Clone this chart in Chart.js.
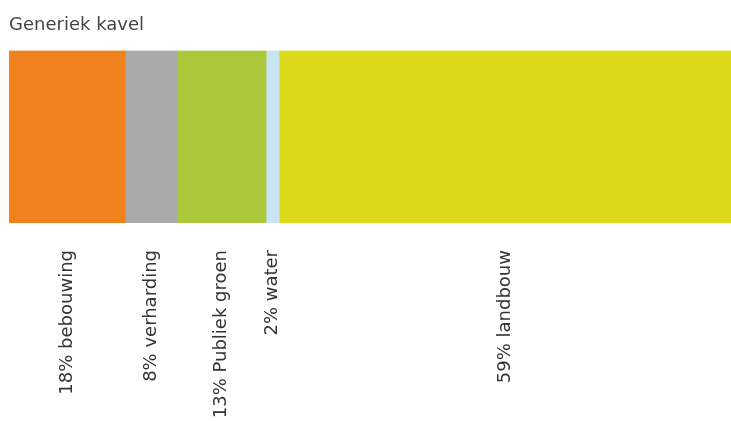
<!DOCTYPE html>
<html>
<head>
<meta charset="utf-8">
<script src="https://cdn.jsdelivr.net/npm/chart.js@4"></script>
<style>
  body { margin: 0; background: #fff; }
  #wrap { width: 731px; height: 421px; }
</style>
</head>
<body>
<div id="wrap"><canvas id="myChart" width="731" height="421"></canvas></div>
<script>
const ctx = document.getElementById('myChart');

// categorieen, zoals in de labels
const names = ['bebouwing', 'verharding', 'Publiek groen', 'water', 'landbouw'];
const pct = [18, 8, 13, 2, 59];
const share = [16.1, 7.2, 12.3, 1.8, 62.6];
const colors = ['#f0821e', '#aaaaaa', '#aac83a', '#c8e4f0', '#dcda1a'];

const tickLabels = names.map((n, i) => pct[i] + '% ' + n);

// midden van elk segment, daar komt het label
const centers = [];
let acc = 0;
share.forEach(v => { centers.push(acc + v / 2); acc += v; });

new Chart(ctx, {
  type: 'bar',
  data: {
    labels: ['kavel'],
    datasets: names.map((n, i) => ({
      label: n,
      data: [share[i]],
      backgroundColor: colors[i],
      borderWidth: 0,
      barPercentage: 1,
      categoryPercentage: 1
    }))
  },
  options: {
    indexAxis: 'y',
    responsive: false,
    animation: false,
    layout: { padding: { left: 9, right: 0, top: 15, bottom: 0 } },
    plugins: {
      legend: { display: false },
      tooltip: { enabled: false },
      title: {
        display: true,
        text: 'Generiek kavel',
        align: 'start',
        color: '#444',
        font: { family: 'DejaVu Sans', size: 18, weight: 'normal' },
        padding: { top: 0, bottom: 14 }
      }
    },
    scales: {
      y: { stacked: true, display: false },
      x: {
        stacked: true,
        min: 0,
        max: 100,
        grid: { display: false, drawTicks: false },
        border: { display: false },
        afterBuildTicks: (scale) => {
          scale.ticks = centers.map(v => ({ value: v }));
        },
        afterFit: (scale) => { scale.height = 198; },
        ticks: {
          autoSkip: false,
          minRotation: 90,
          maxRotation: 90,
          padding: 27,
          color: '#333',
          font: { family: 'DejaVu Sans', size: 18 },
          callback: (v, i) => tickLabels[i]
        }
      }
    }
  }
});
</script>
</body>
</html>
